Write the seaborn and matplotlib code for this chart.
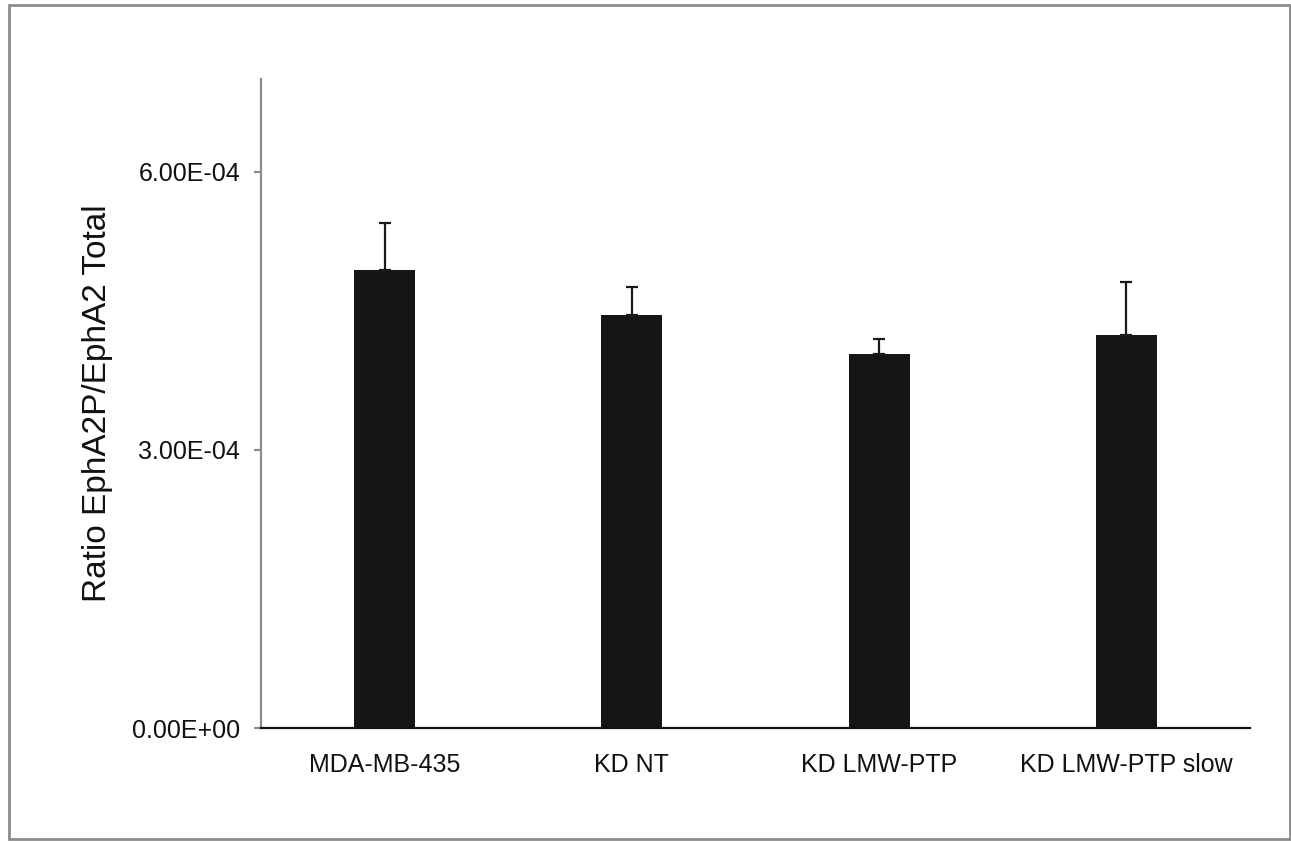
import matplotlib
matplotlib.use("Agg")
import matplotlib.pyplot as plt
import seaborn as sns
import pandas as pd
from matplotlib.patches import Rectangle
from matplotlib.ticker import FixedLocator, FuncFormatter

categories = ["MDA-MB-435", "KD NT", "KD LMW-PTP", "KD LMW-PTP slow"]
means = [4.945e-4, 4.454e-4, 4.029e-4, 4.238e-4]
errors = [0.497e-4, 0.307e-4, 0.162e-4, 0.577e-4]
yticks = [0.0, 3e-4, 6e-4]

sns.set_theme(style="white")
plt.rcParams["font.family"] = ["Liberation Sans", "DejaVu Sans"]

df = pd.DataFrame({"cat": categories, "val": means})

fig = plt.figure(figsize=(12.91, 8.41), dpi=100)
ax = fig.add_axes([261/1291, (841-728)/841, (1250-261)/1291, (728-79)/841])

sns.barplot(data=df, x="cat", y="val", order=categories, color="#151515",
            width=0.247, saturation=1, errorbar=None, ax=ax,
            edgecolor="#151515", linewidth=0)

xpos = list(range(len(categories)))
ax.errorbar(xpos, means, yerr=[[0]*len(errors), errors], fmt="none",
            ecolor="#1a1a1a", elinewidth=1.6, capsize=4.5, capthick=1.6, zorder=3)

ax.set_xlim(-0.5, len(categories) - 0.5)
ax.set_ylim(0, 7e-4)
ax.yaxis.set_major_locator(FixedLocator(yticks))
ax.yaxis.set_major_formatter(FuncFormatter(lambda v, p: f"{v:.2E}"))

ax.set_xlabel("")
ax.set_ylabel("Ratio EphA2P/EphA2 Total", fontsize=24, color="#111111", labelpad=14)

for s in ["top", "right"]:
    ax.spines[s].set_visible(False)
ax.spines["left"].set_color("#8c8c8c")
ax.spines["left"].set_linewidth(1.6)
ax.spines["bottom"].set_color("#111111")
ax.spines["bottom"].set_linewidth(1.6)

ax.tick_params(axis="y", which="major", left=True, length=5, width=1.6,
               color="#8c8c8c", pad=10, labelsize=18, labelcolor="#111111")
ax.tick_params(axis="x", which="major", bottom=False, length=0, pad=18,
               labelsize=18, labelcolor="#111111")

fig.patches.append(Rectangle((8.5/1291, 2/841), (1289.5-8.5)/1291, (836-2)/841,
                             transform=fig.transFigure, fill=False,
                             edgecolor="#8c8c8c", linewidth=2))

fig.savefig("out.png", dpi=100, facecolor="white")
